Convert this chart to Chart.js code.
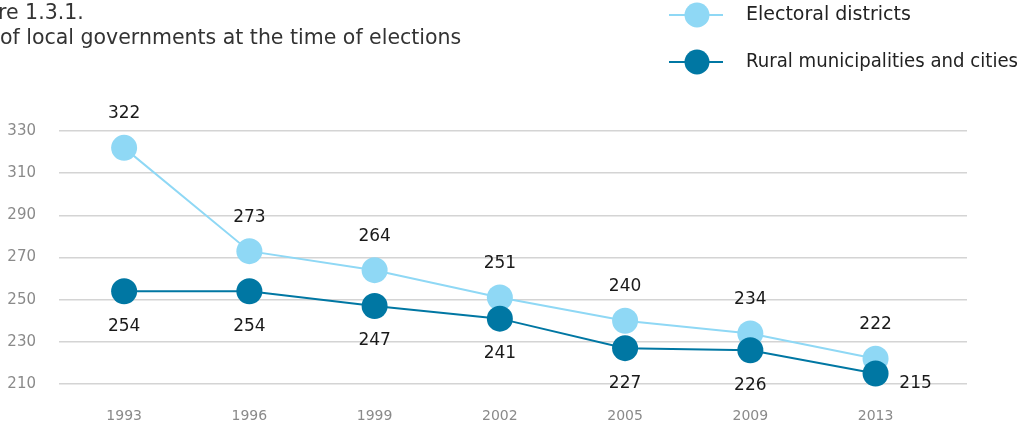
<!DOCTYPE html>
<html>
<head>
<meta charset="utf-8">
<script src="https://cdn.jsdelivr.net/npm/chart.js@4"></script>
<style>
  body { margin: 0; background: #fff; }
  #wrap { position: relative; width: 1031px; height: 434px; overflow: hidden; }
  #title { position: absolute; left: 0; top: 0; font-family: "DejaVu Sans", sans-serif; font-size: 20.5px; line-height: 25px; color: #333; white-space: nowrap; }
  #title .l1 { margin-left: -44px; }
  canvas { position: absolute; left: 0; top: 0; }
</style>
</head>
<body>
<div id="wrap">
  <canvas id="chart" width="1031" height="434"></canvas>
  <div id="title"><span class="l1">Figure 1.3.1.</span><br>of local governments at the time of elections</div>
</div>
<script>
const years = ['1993', '1996', '1999', '2002', '2005', '2009', '2013'];
const electoral = [322, 273, 264, 251, 240, 234, 222];
const rural = [254, 254, 247, 241, 227, 226, 215];
const yTicks = [210, 230, 250, 270, 290, 310, 330];

const lightBlue = '#8fd8f5';
const darkBlue = '#0077a3';

// value labels: electoral above, rural below (last one off to the right)
const valueLabels = {
  id: 'valueLabels',
  afterDatasetsDraw(chart) {
    const ctx = chart.ctx;
    ctx.save();
    ctx.font = '17px "DejaVu Sans", sans-serif';
    ctx.fillStyle = '#1a1a1a';
    ctx.textAlign = 'center';
    ctx.textBaseline = 'middle';
    chart.data.datasets.forEach((ds, di) => {
      const meta = chart.getDatasetMeta(di);
      meta.data.forEach((pt, i) => {
        const v = ds.data[i].y;
        if (ds.label === 'Electoral districts') {
          ctx.fillText(v, pt.x, pt.y - 34);
        } else if (i === ds.data.length - 1) {
          ctx.fillText(v, pt.x + 40, pt.y + 10);
        } else {
          ctx.fillText(v, pt.x, pt.y + 35);
        }
      });
    });
    ctx.restore();
  }
};

// legend drawn top right, line with a dot then the label
const sideLegend = {
  id: 'sideLegend',
  afterDraw(chart) {
    const ctx = chart.ctx;
    const rows = [
      { label: 'Electoral districts', color: lightBlue, y: 15 },
      { label: 'Rural municipalities and cities', color: darkBlue, y: 62 }
    ];
    ctx.save();
    rows.forEach(r => {
      ctx.strokeStyle = r.color;
      ctx.lineWidth = 2;
      ctx.beginPath();
      ctx.moveTo(669, r.y);
      ctx.lineTo(723, r.y);
      ctx.stroke();
      ctx.fillStyle = r.color;
      ctx.beginPath();
      ctx.arc(697, r.y, 12.5, 0, Math.PI * 2);
      ctx.fill();
      ctx.fillStyle = '#222';
      ctx.font = '19px "DejaVu Sans", sans-serif';
      ctx.textAlign = 'left';
      ctx.textBaseline = 'middle';
      ctx.fillText(r.label, 746, r.y, 272);
    });
    ctx.restore();
  }
};

new Chart(document.getElementById('chart'), {
  type: 'line',
  data: {
    datasets: [
      {
        label: 'Electoral districts',
        data: electoral.map((v, i) => ({ x: i, y: v })),
        borderColor: lightBlue,
        backgroundColor: lightBlue,
        borderWidth: 2,
        pointRadius: 13,
        pointHoverRadius: 13,
        pointBorderWidth: 0,
        order: 2
      },
      {
        label: 'Rural municipalities and cities',
        data: rural.map((v, i) => ({ x: i, y: v })),
        borderColor: darkBlue,
        backgroundColor: darkBlue,
        borderWidth: 2,
        pointRadius: 13,
        pointHoverRadius: 13,
        pointBorderWidth: 0,
        order: 1
      }
    ]
  },
  options: {
    responsive: false,
    animation: false,
    clip: false,
    layout: { padding: { top: 131, right: 64, left: 0, bottom: 0 } },
    plugins: { legend: { display: false }, tooltip: { enabled: false } },
    scales: {
      x: {
        type: 'linear',
        min: -0.52,
        max: 6.73,
        afterBuildTicks: (scale) => { scale.ticks = years.map((_, i) => ({ value: i })); },
        afterFit: (scale) => { scale.height = 50; },
        grid: { display: false, drawTicks: false },
        border: { display: false },
        ticks: {
          padding: 24,
          color: '#8a8a8a',
          font: { family: 'DejaVu Sans', size: 14 },
          callback: (v) => years[v]
        }
      },
      y: {
        min: 210,
        max: 330,
        afterBuildTicks: (scale) => { scale.ticks = yTicks.map(v => ({ value: v })); },
        afterFit: (scale) => { scale.width = 59; },
        grid: { color: '#d4d4d4', lineWidth: 1.5, drawTicks: false },
        border: { display: false },
        ticks: {
          padding: 23,
          color: '#8a8a8a',
          font: { family: 'DejaVu Sans', size: 15 }
        }
      }
    }
  },
  plugins: [valueLabels, sideLegend]
});
</script>
</body>
</html>
